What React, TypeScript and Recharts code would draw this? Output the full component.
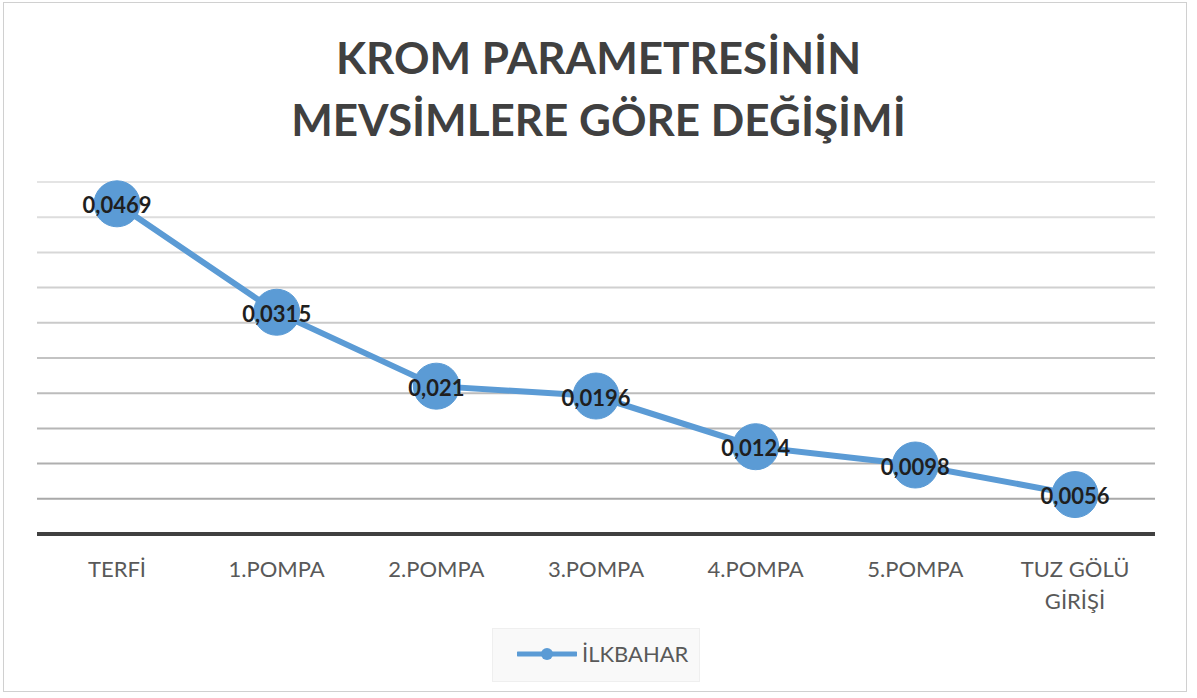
import React from 'react';
import { LineChart, Line, XAxis, YAxis, CartesianGrid, LabelList } from 'recharts';

const categories = ['TERFİ', '1.POMPA', '2.POMPA', '3.POMPA', '4.POMPA', '5.POMPA', 'TUZ GÖLÜ\nGİRİŞİ'];
const ilkbahar = [0.0469, 0.0315, 0.021, 0.0196, 0.0124, 0.0098, 0.0056];
const yTicks = [0, 0.005, 0.01, 0.015, 0.02, 0.025, 0.03, 0.035, 0.04, 0.045, 0.05];
const seriesName = 'İLKBAHAR';
const titleLines = ['KROM PARAMETRESİNİN', 'MEVSİMLERE GÖRE DEĞİŞİMİ'];

const data = categories.map((c, i) => ({ name: c, v: ilkbahar[i] }));

const FONT = 'Lato, "Open Sans", sans-serif';
const BLUE = '#5b9bd5';
const PLOT_TOP = 182;
const PLOT_BOTTOM = 534;

const gridLine = (p: any) => {
  const t = Math.max(0, Math.min(1, (p.y1 - PLOT_TOP) / (PLOT_BOTTOM - PLOT_TOP)));
  const c = Math.round(228 - t * 66);
  return (
    <line
      key={p.key ?? `g-${p.index}`}
      x1={p.x1}
      x2={p.x2}
      y1={p.y1}
      y2={p.y2}
      stroke={`rgb(${c},${c},${c})`}
      strokeWidth={2}
    />
  );
};

const Tick = (p: any) => {
  const lines = String(p.payload.value).split('\n');
  return (
    <g>
      {lines.map((l, i) => (
        <text
          key={i}
          x={p.x}
          y={p.y + 43 + i * 32}
          textAnchor="middle"
          fontFamily={FONT}
          fontSize={22}
          fill="#595959"
        >
          {l}
        </text>
      ))}
    </g>
  );
};

const ValueLabel = (p: any) => (
  <text
    x={p.x}
    y={p.y}
    dy={1}
    textAnchor="middle"
    dominantBaseline="central"
    fontFamily={FONT}
    fontWeight={700}
    fontSize={22}
    fill="#1f1f1f"
  >
    {String(p.value).replace('.', ',')}
  </text>
);

export default function App() {
  return (
    <div style={{ position: 'absolute', left: 0, top: 0, width: 1197, height: 698, background: '#fff', overflow: 'hidden' }}>
      <div
        style={{
          position: 'absolute',
          left: 3,
          top: 2,
          width: 1184,
          height: 690,
          border: '1.5px solid #d0d0d0',
          boxSizing: 'border-box',
        }}
      />
      <div
        style={{
          position: 'absolute',
          left: 0,
          top: 26,
          width: 1197,
          textAlign: 'center',
          fontFamily: FONT,
          fontWeight: 700,
          fontSize: 44,
          lineHeight: '62px',
          color: '#404040',
        }}
      >
        {titleLines.map((t, i) => (
          <div key={i}>{t}</div>
        ))}
      </div>
      <div style={{ position: 'absolute', left: 0, top: 0 }}>
        <LineChart width={1197} height={698} data={data} margin={{ top: PLOT_TOP, left: 37, right: 42, bottom: 84 }}>
          <CartesianGrid vertical={false} horizontal={gridLine} />
          <YAxis hide domain={[0, 0.05]} ticks={yTicks} />
          <XAxis
            dataKey="name"
            height={80}
            padding={{ left: 80, right: 80 }}
            axisLine={{ stroke: '#404040', strokeWidth: 4 }}
            tickLine={false}
            tickSize={0}
            tickMargin={0}
            interval={0}
            tick={<Tick />}
          />
          <Line
            dataKey="v"
            name={seriesName}
            stroke={BLUE}
            strokeWidth={6}
            dot={{ r: 23, fill: BLUE, stroke: BLUE, strokeWidth: 1 }}
            activeDot={false}
            isAnimationActive={false}
          >
            <LabelList dataKey="v" content={<ValueLabel />} />
          </Line>
        </LineChart>
      </div>
      <div
        style={{
          position: 'absolute',
          left: 492,
          top: 628,
          width: 208,
          height: 54,
          background: '#f9f9f9',
          border: '1px solid #efefef',
          boxSizing: 'border-box',
        }}
      >
        <svg width={60} height={20} style={{ position: 'absolute', left: 24, top: 15 }}>
          <line x1={1} y1={10} x2={59} y2={10} stroke={BLUE} strokeWidth={5} strokeLinecap="round" />
          <circle cx={30} cy={10} r={6} fill={BLUE} />
        </svg>
        <div
          style={{
            position: 'absolute',
            left: 89,
            top: 12,
            fontFamily: FONT,
            fontSize: 22,
            color: '#595959',
            lineHeight: '26px',
          }}
        >
          {seriesName}
        </div>
      </div>
    </div>
  );
}
